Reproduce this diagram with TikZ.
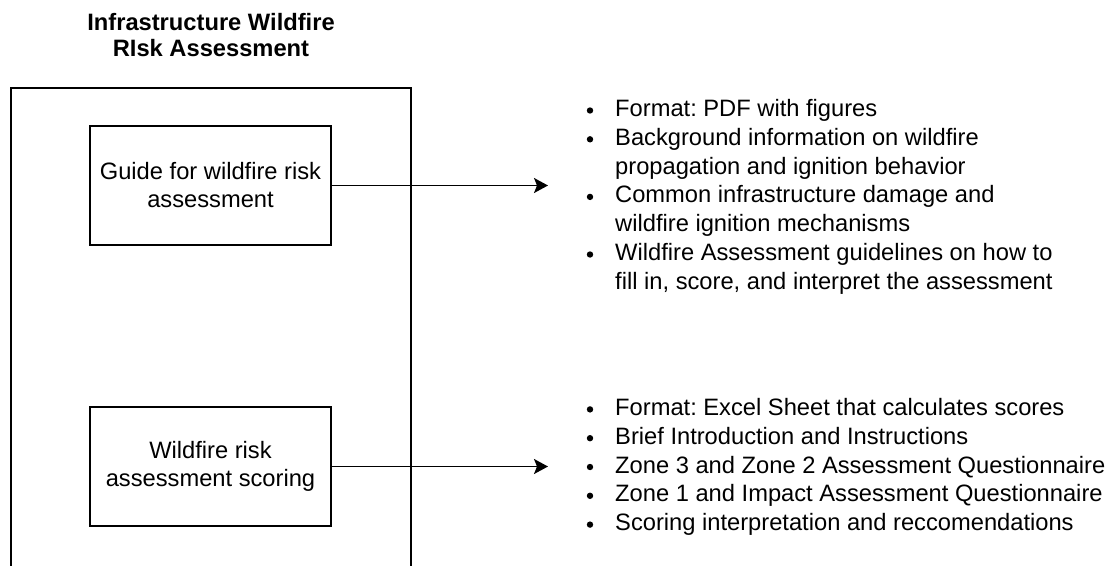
\documentclass[tikz,border=0pt]{standalone}
\usepackage{fontspec}
\setmainfont{Liberation Sans}
\usetikzlibrary{arrows.meta}
\frenchspacing
\begin{document}
\begin{tikzpicture}[x=1pt,y=1pt,
  li/.style={inner sep=0, anchor=base west, font=\frenchspacing\fontsize{23.7}{28}\selectfont},
  ttl/.style={inner sep=0, anchor=base, font=\bfseries\fontsize{23.7}{26}\selectfont},
  boxn/.style={draw, line width=1.7pt, minimum width=241, minimum height=119, inner sep=0, align=center, font=\fontsize{23.7}{28}\selectfont},
  framebox/.style={draw, line width=1.7pt, anchor=north west, minimum width=400, minimum height=560, inner sep=0},
  arr/.style={line width=1.7pt, -{Stealth[length=14pt,width=15pt,inset=3pt]}},
  bul/.style={fill=black}
]
\path[use as bounding box] (0,0) rectangle (1113,-565);
\clip (0,0) rectangle (1113,-565);

% title
\node[ttl] (title1) at (211,-30) {Infrastructure Wildfire};
\node[ttl] (title2) at (211,-56) {RIsk Assessment};

% container
\node[framebox] (frame) at (10,-87) {};

% boxes
\node[boxn] (guide) at (210.5,-185.5) {Guide for wildfire risk\\assessment};
\node[boxn] (score) at (210.5,-466.5) {Wildfire risk\\assessment scoring};

% arrow ends
\coordinate (t1) at (548,-185.5);
\coordinate (t2) at (548,-466.5);
\draw[arr] (guide.east) -- (t1);
\draw[arr] (score.east) -- (t2);

% top list
\node[li] (a1) at (615,-116.5) {Format: PDF with figures};
\node[li] (a2) at (615,-145.3) {Background information on wildfire};
\node[li] (a3) at (615,-174.1) {propagation and ignition behavior};
\node[li] (a4) at (615,-202.9) {Common infrastructure damage and};
\node[li] (a5) at (615,-231.7) {wildfire ignition mechanisms};
\node[li] (a6) at (615,-260.5) {Wildfire Assessment guidelines on how to};
\node[li] (a7) at (615,-289.3) {fill in, score, and interpret the assessment};
\foreach \y in {116.5,145.3,202.9,260.5} \fill[bul] (590,-\y+6) circle (3.2);

% bottom list
\node[li] (b1) at (615,-415.4) {Format: Excel Sheet that calculates scores};
\node[li] (b2) at (615,-444.2) {Brief Introduction and Instructions};
\node[li] (b3) at (615,-473.0) {Zone 3 and Zone 2 Assessment Questionnaire};
\node[li] (b4) at (615,-501.8) {Zone 1 and Impact Assessment Questionnaire};
\node[li] (b5) at (615,-530.6) {Scoring interpretation and reccomendations};
\foreach \y in {415.4,444.2,473.0,501.8,530.6} \fill[bul] (590,-\y+6) circle (3.2);
\end{tikzpicture}
\end{document}
